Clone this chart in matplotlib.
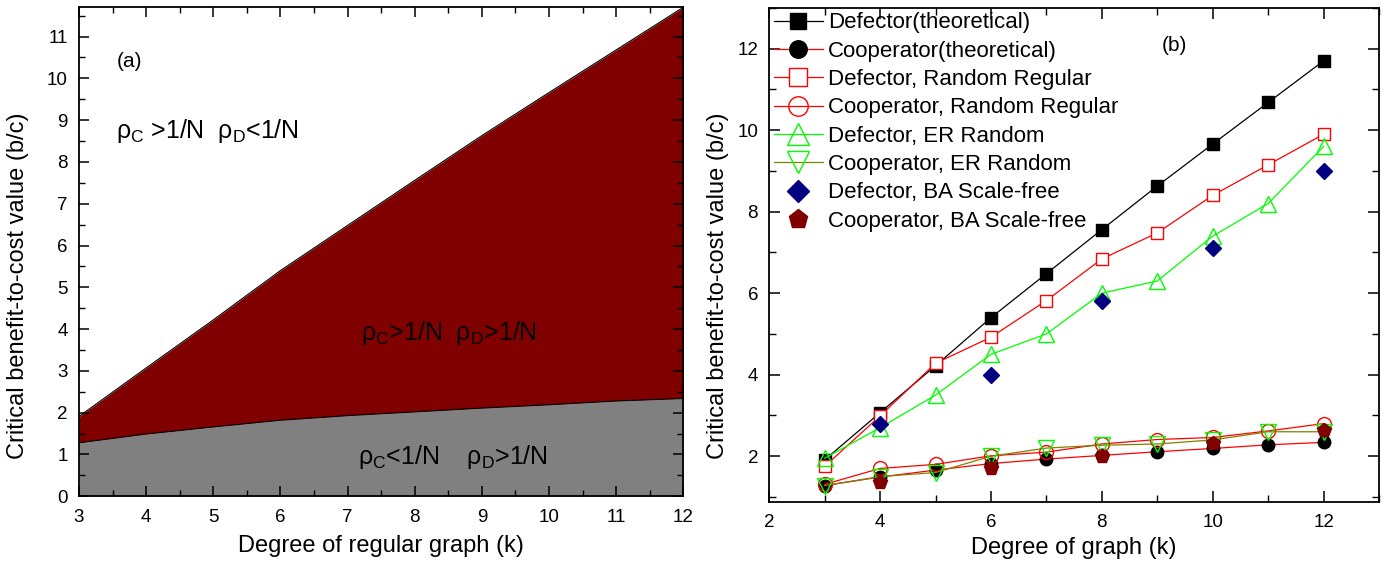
import matplotlib
matplotlib.use("Agg")
import matplotlib.pyplot as plt
from matplotlib.ticker import MultipleLocator

plt.rcParams['font.family'] = ['Liberation Sans', 'DejaVu Sans']
plt.rcParams['mathtext.fontset'] = 'custom'
plt.rcParams['mathtext.rm'] = 'Liberation Sans'
plt.rcParams['mathtext.it'] = 'Liberation Sans'

# ---- data ----
k = [3, 4, 5, 6, 7, 8, 9, 10, 11, 12]
k_ba = [4, 6, 8, 10, 12]
defector_theory = [1.91, 3.07, 4.22, 5.40, 6.48, 7.56, 8.63, 9.66, 10.68, 11.70]
coop_theory = [1.28, 1.49, 1.66, 1.82, 1.93, 2.02, 2.11, 2.19, 2.28, 2.34]
defector_rr = [1.75, 2.99, 4.28, 4.92, 5.82, 6.84, 7.48, 8.40, 9.15, 9.90]
coop_rr = [1.31, 1.70, 1.80, 2.01, 2.10, 2.30, 2.41, 2.46, 2.62, 2.80]
defector_er = [1.95, 2.70, 3.50, 4.50, 5.00, 6.00, 6.30, 7.40, 8.20, 9.60]
coop_er = [1.28, 1.50, 1.60, 2.00, 2.20, 2.27, 2.30, 2.40, 2.60, 2.60]
defector_ba = [2.80, 4.00, 5.80, 7.10, 9.00]
coop_ba = [1.37, 1.70, 2.00, 2.33, 2.64]

fig = plt.figure(figsize=(13.86, 5.62), dpi=100)

# ---- panel (a) ----
axa = fig.add_axes([0.057, 0.117, 0.436, 0.870])
axa.fill_between(k, 0, coop_theory, color='#808080', lw=0)
axa.fill_between(k, coop_theory, defector_theory, color='#800000', lw=0)
axa.plot(k, coop_theory, color='black', lw=0.8)
axa.plot(k, defector_theory, color='black', lw=0.8)
axa.set_xlim(3, 12)
axa.set_ylim(0, 11.7)
axa.xaxis.set_major_locator(MultipleLocator(1))
axa.yaxis.set_major_locator(MultipleLocator(1))
axa.yaxis.set_minor_locator(MultipleLocator(0.5))
axa.xaxis.set_minor_locator(MultipleLocator(0.5))
axa.tick_params(which='both', direction='in', top=True, right=True, labelsize=13.5)
axa.tick_params(which='major', length=7, width=1.1)
axa.tick_params(which='minor', length=4, width=1.0)
axa.tick_params(axis='x', pad=9)
axa.tick_params(axis='y', pad=8)
axa.set_xlabel('Degree of regular graph (k)', fontsize=17, labelpad=7)
axa.set_ylabel('Critical benefit-to-cost value (b/c)', fontsize=17)
axa.yaxis.set_label_coords(-0.082, 0.43)
axa.text(3.75, 10.4, '(a)', fontsize=15, ha='center', va='center')
axa.text(3.55, 8.75, r'$\rho_{C}$ >1/N  $\rho_{D}$<1/N', fontsize=18, ha='left', va='center')
axa.text(7.2, 3.9, r'$\rho_{C}$>1/N  $\rho_{D}$>1/N', fontsize=18, ha='left', va='center')
axa.text(7.15, 0.95, r'$\rho_{C}$<1/N    $\rho_{D}$>1/N', fontsize=18, ha='left', va='center')
for s in axa.spines.values():
    s.set_linewidth(1.3)

# ---- panel (b) ----
axb = fig.add_axes([0.555, 0.107, 0.440, 0.879])
ms = 8
axb.plot(k, defector_theory, color='black', lw=0.9, marker='s', ms=ms,
         mfc='black', mec='black', label='Defector(theoretical)')
axb.plot(k, coop_theory, color='red', lw=0.9, marker='o', ms=ms + 1,
         mfc='black', mec='black', label='Cooperator(theoretical)')
axb.plot(k, defector_rr, color='red', lw=0.9, marker='s', ms=ms + 1,
         mfc='white', mec='red', label='Defector, Random Regular')
axb.plot(k, coop_rr, color='red', lw=0.9, marker='o', ms=ms + 2,
         mfc='none', mec='red', label='Cooperator, Random Regular')
axb.plot(k, defector_er, color='#00ff00', lw=0.9, marker='^', ms=ms + 3,
         mfc='none', mec='#00ff00', label='Defector, ER Random')
axb.plot(k, coop_er, color='#808000', lw=0.9, marker='v', ms=ms + 3,
         mfc='none', mec='#00ff00', label='Cooperator, ER Random')
axb.plot(k_ba, defector_ba, ls='none', marker='D', ms=ms,
         mfc='#000080', mec='#000080', label='Defector, BA Scale-free')
axb.plot(k_ba, coop_ba, ls='none', marker='p', ms=ms + 2,
         mfc='#800000', mec='#800000', label='Cooperator, BA Scale-free')
axb.set_xlim(2, 13)
axb.set_ylim(0.88, 13)
axb.xaxis.set_major_locator(MultipleLocator(2))
axb.xaxis.set_minor_locator(MultipleLocator(1))
axb.yaxis.set_major_locator(MultipleLocator(2))
axb.yaxis.set_minor_locator(MultipleLocator(1))
axb.tick_params(which='both', direction='in', top=True, right=True, labelsize=13.5)
axb.tick_params(which='major', length=8, width=1.1)
axb.tick_params(which='minor', length=5, width=1.0)
axb.tick_params(axis='x', pad=9)
axb.tick_params(axis='y', pad=8)
axb.set_xlabel('Degree of graph (k)', fontsize=17, labelpad=4)
axb.set_ylabel('Critical benefit-to-cost value (b/c)', fontsize=17)
axb.yaxis.set_label_coords(-0.066, 0.437)
axb.text(9.3, 12.07, '(b)', fontsize=15, ha='center', va='center')
leg = axb.legend(loc='upper left', frameon=False, fontsize=16, markerscale=1.4,
                 handlelength=2.2, handletextpad=0.25, labelspacing=0.33,
                 borderaxespad=0.0, borderpad=0.2)
for s in axb.spines.values():
    s.set_linewidth(1.3)

fig.savefig('out.png', dpi=100)
